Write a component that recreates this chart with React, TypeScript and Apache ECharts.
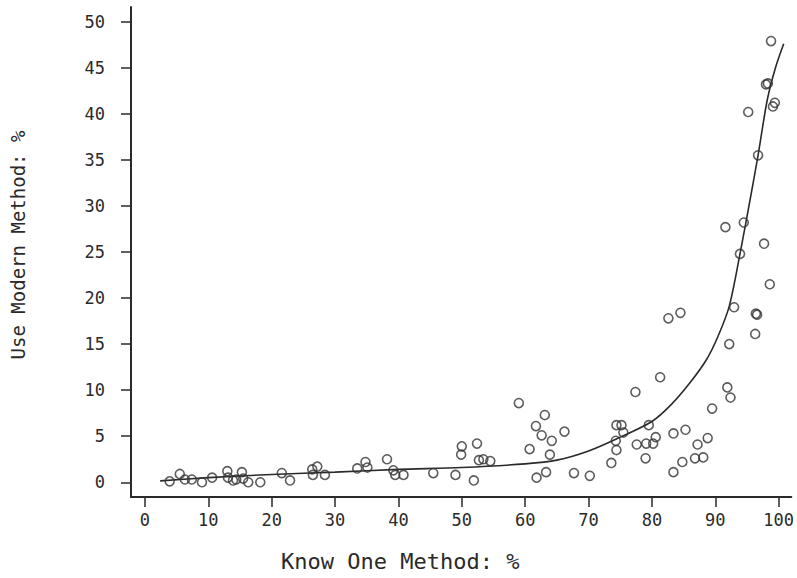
import React, { useEffect, useRef } from "react";
import * as echarts from "echarts";

const xTicks = [0, 10, 20, 30, 40, 50, 60, 70, 80, 90, 100];
const yTicks = [0, 5, 10, 15, 20, 25, 30, 35, 40, 45, 50];

const knowX = [
  3.9, 5.5, 6.3, 7.4, 9.0, 10.6, 13.0, 13.1, 13.9, 14.4, 15.3, 15.5, 16.3, 18.2, 21.6, 22.9,
  26.4, 27.2, 26.5, 28.4, 33.5, 34.8, 35.1, 38.2, 39.2, 39.5, 40.8, 45.5, 49.0, 49.9, 50.0,
  51.9, 52.4, 52.7, 53.4, 54.5, 59.0, 60.7, 61.7, 63.1, 62.6, 64.2, 63.9, 61.8, 63.3, 66.2,
  67.7, 70.2, 73.6, 74.3, 74.4, 74.4, 75.2, 75.5, 77.6, 79.0, 79.1, 79.5, 80.2, 80.6, 83.4,
  83.4, 84.8, 85.3, 86.8, 87.2, 88.1, 88.8, 89.5, 91.9, 92.4, 81.3, 77.4, 82.6, 84.5, 91.6,
  94.5, 97.7, 93.9, 98.6, 92.97, 96.4, 96.6, 96.3, 92.2, 98.8, 98.0, 98.3, 99.4, 99.1, 95.2,
  96.75,
];
const useY = [
  0.1, 0.9, 0.3, 0.3, 0.0, 0.5, 1.2, 0.5, 0.2, 0.3, 1.1, 0.4, 0.0, 0.0, 1.0, 0.2,
  1.4, 1.7, 0.8, 0.8, 1.5, 2.2, 1.6, 2.5, 1.3, 0.8, 0.8, 1.0, 0.8, 3.0, 3.9,
  0.2, 4.2, 2.4, 2.5, 2.3, 8.6, 3.6, 6.1, 7.3, 5.1, 4.5, 3.0, 0.5, 1.1, 5.5,
  1.0, 0.7, 2.1, 4.5, 3.5, 6.2, 6.2, 5.4, 4.1, 2.6, 4.2, 6.2, 4.2, 4.9, 5.3,
  1.1, 2.2, 5.7, 2.6, 4.1, 2.7, 4.8, 8.0, 10.3, 9.2, 11.4, 9.8, 17.8, 18.4, 27.7,
  28.2, 25.9, 24.8, 21.5, 19.0, 18.3, 18.2, 16.1, 15.0, 47.9, 43.2, 43.3, 41.2, 40.8, 40.2,
  35.5,
];

const fitX = [2.4, 10, 20, 30, 40, 50, 60, 65, 70, 75, 80, 83, 86, 88.6, 90.4, 92.2, 93.9, 95.5, 96.75, 98.2, 99.5, 100.8];
const fitY = [0.15, 0.5, 0.85, 1.1, 1.4, 1.6, 2.0, 2.4, 3.4, 4.9, 6.6, 8.4, 10.8, 13.3, 15.8, 19.1, 24.8, 30.7, 35.5, 41.5, 45.0, 47.6];

const MONO = "'DejaVu Sans Mono', monospace";
const INK = "#2a2a2a";

export default function App() {
  const ref = useRef<HTMLDivElement>(null);
  useEffect(() => {
    if (!ref.current) return;
    const chart = echarts.init(ref.current, null, { renderer: "svg" });
    const pts = knowX.map((x, i) => [x, useY[i]]);
    const fit = fitX.map((x, i) => [x, fitY[i]]);
    chart.setOption({
      animation: false,
      backgroundColor: "#ffffff",
      grid: { left: 131, right: 4, top: 7, bottom: 81 },
      xAxis: {
        type: "value",
        min: -2.2,
        max: 102,
        splitLine: { show: false },
        axisLine: { onZero: false, lineStyle: { color: INK, width: 2 } },
        axisTick: { customValues: xTicks, length: 10, inside: false, lineStyle: { color: INK, width: 1.5 } },
        axisLabel: { customValues: xTicks, margin: 14, color: INK, fontFamily: MONO, fontSize: 17 },
      },
      yAxis: {
        type: "value",
        min: -1.6,
        max: 51.6,
        splitLine: { show: false },
        axisLine: { onZero: false, lineStyle: { color: INK, width: 2 } },
        axisTick: { customValues: yTicks, length: 10, inside: false, lineStyle: { color: INK, width: 1.5 } },
        axisLabel: { customValues: yTicks, margin: 26, color: INK, fontFamily: MONO, fontSize: 17 },
      },
      graphic: [
        {
          type: "text",
          left: 281,
          top: 550,
          style: { text: "Know One Method: %", fill: INK, font: `22px ${MONO}` },
        },
        {
          type: "text",
          x: 18,
          y: 245,
          rotation: Math.PI / 2,
          style: {
            text: "Use Modern Method: %",
            fill: INK,
            font: `19px ${MONO}`,
            align: "center",
            verticalAlign: "middle",
          },
        },
      ],
      series: [
        {
          type: "line",
          data: fit,
          smooth: 0.3,
          symbol: "none",
          lineStyle: { color: INK, width: 1.6 },
          z: 2,
        },
        {
          type: "scatter",
          data: pts,
          symbol: "circle",
          symbolSize: 9,
          itemStyle: { color: "rgba(255,255,255,0)", borderColor: "#333333", borderWidth: 1.6 },
          z: 3,
        },
      ],
    });
    return () => chart.dispose();
  }, []);
  return (
    <div
      ref={ref}
      style={{ position: "fixed", left: 0, top: 0, width: 797, height: 578, background: "#fff" }}
    />
  );
}
